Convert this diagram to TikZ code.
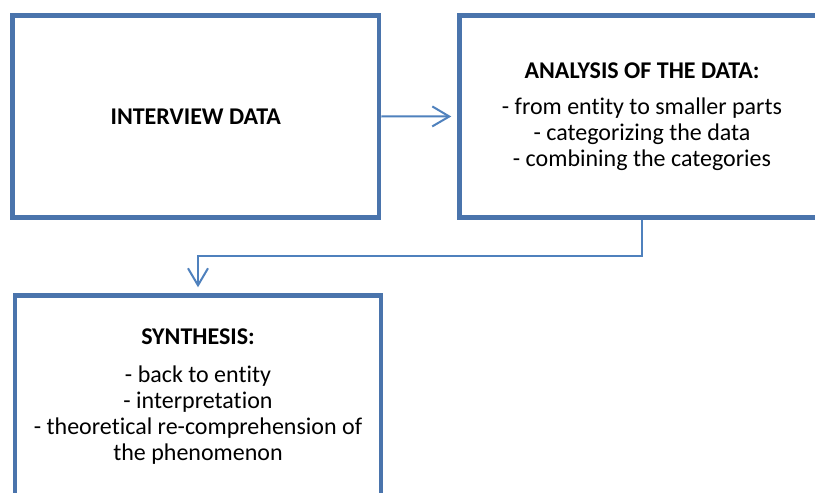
\documentclass[tikz,border=0pt]{standalone}
\usepackage{fontspec}
\setmainfont[Ligatures=NoCommon]{Carlito}
\usetikzlibrary{arrows.meta}
\definecolor{boxblue}{RGB}{74,116,172}
\definecolor{linkblue}{RGB}{79,129,189}
\tikzset{
  stepbox/.style={draw=boxblue, line width=4.5pt, fill=white, rectangle,
    minimum height=202pt, inner sep=0pt, align=center,
    font=\fontsize{24}{26}\selectfont},
  link/.style={draw=linkblue, line width=2pt,
    -{Straight Barb[length=17pt,width=20pt,line width=2pt]}, shorten >=6pt}
}
\begin{document}
\begin{tikzpicture}[x=1pt,y=-1pt]
\useasboundingbox (0,0) rectangle (815,493);
\clip (0,0) rectangle (815,493);
\fill[white] (0,0) rectangle (815,493);
\node[stepbox, minimum width=366.5pt] (box1) at (195.75,116.25) {\textbf{INTERVIEW DATA}};
\node[stepbox, minimum width=365pt] (box2) at (642,116.5)
  {\textbf{ANALYSIS OF THE DATA:}\\[10pt]
   - from entity to smaller parts\\
   - categorizing the data\\
   - combining the categories};
\node[stepbox, minimum width=366pt] (box3) at (198,396.5)
  {\textbf{SYNTHESIS:}\\[11.5pt]
   - back to entity\\
   - interpretation\\
   - theoretical re-comprehension of\\
   the phenomenon};
\draw[link] (box1.east) -- (box2.west);
\coordinate (bend) at (642,256);
\draw[link] (box2.south) -- (bend) -| (box3.north);
\end{tikzpicture}
\end{document}
